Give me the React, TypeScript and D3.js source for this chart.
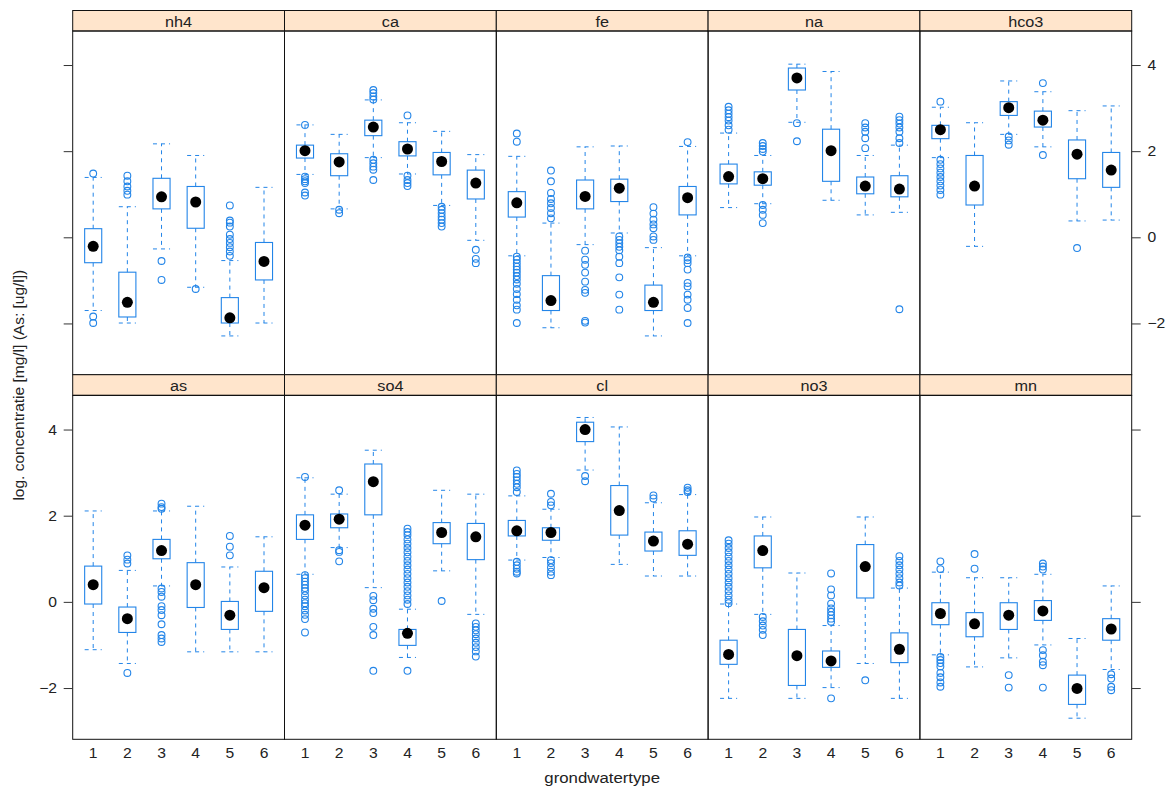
import React, { useEffect, useRef } from 'react';
import * as d3 from 'd3';

// grondwatertype 1..6
const groups = [1, 2, 3, 4, 5, 6];
const yTicks = [-2, 0, 2, 4];

// per group: [lower whisker, Q1, median, Q3, upper whisker]
const nh4Stats = [
  [-1.70, -0.59, -0.21, 0.20, 1.39],
  [-1.99, -1.85, -1.51, -0.81, 0.71],
  [-0.27, 0.66, 0.94, 1.37, 2.17],
  [-1.16, 0.21, 0.82, 1.18, 1.90],
  [-2.29, -1.99, -1.87, -1.40, -0.54],
  [-1.99, -0.99, -0.56, -0.12, 1.16],
];
const nh4Out = [
  [1.48, -1.84, -1.99],
  [1.43, 1.30, 1.18, 1.08, 0.99],
  [-0.55, -0.99],
  [-1.20],
  [0.74, 0.39, 0.34, 0.25, 0.06, -0.04, -0.13, -0.23, -0.33, -0.43],
  [],
];

const caStats = [
  [1.46, 1.84, 2.01, 2.14, 2.61],
  [0.66, 1.43, 1.75, 1.94, 2.39],
  [1.85, 2.36, 2.56, 2.72, 3.19],
  [1.47, 1.89, 2.05, 2.22, 2.66],
  [0.74, 1.45, 1.76, 1.97, 2.46],
  [-0.07, 0.89, 1.26, 1.56, 1.92],
];
const caOut = [
  [2.61, 1.41, 1.35, 1.30, 1.26, 1.04, 0.97],
  [0.64, 0.56],
  [3.42, 3.35, 3.27, 3.20, 1.80, 1.72, 1.64, 1.57, 1.33],
  [2.83, 1.43, 1.33, 1.26, 1.19],
  [0.71, 0.64, 0.56, 0.48, 0.41, 0.33, 0.25],
  [-0.29, -0.50, -0.60],
];

const feStats = [
  [-0.43, 0.47, 0.80, 1.06, 1.88],
  [-2.10, -1.70, -1.47, -0.89, 0.33],
  [-0.17, 0.66, 0.95, 1.33, 2.10],
  [0.10, 0.83, 1.14, 1.35, 2.12],
  [-2.29, -1.70, -1.51, -1.11, -0.24],
  [-0.43, 0.52, 0.92, 1.18, 2.11],
];
const feOut = [
  [2.41, 2.22, -0.45, -0.52, -0.60, -0.68, -0.75, -0.82, -0.90, -0.98, -1.08, -1.20, -1.32, -1.45, -1.58, -1.68, -1.99],
  [1.55, 1.30, 1.03, 0.89, 0.79, 0.68, 0.56, 0.44],
  [-0.31, -0.52, -0.64, -0.82, -1.03, -1.22, -1.29, -1.94, -1.98],
  [0.02, -0.06, -0.14, -0.22, -0.30, -0.45, -0.60, -0.93, -1.33, -1.68],
  [0.70, 0.55, 0.41, 0.30, 0.21, 0.02, -0.06],
  [2.21, -0.47, -0.53, -0.60, -0.75, -1.06, -1.14, -1.33, -1.45, -1.64, -1.99],
];

const naStats = [
  [0.69, 1.24, 1.41, 1.70, 2.42],
  [0.78, 1.21, 1.36, 1.52, 1.90],
  [2.67, 3.42, 3.70, 3.93, 4.02],
  [0.86, 1.30, 2.01, 2.51, 3.85],
  [0.52, 1.01, 1.19, 1.40, 1.90],
  [0.58, 0.94, 1.12, 1.43, 2.14],
];
const naOut = [
  [3.03, 2.95, 2.87, 2.79, 2.71, 2.60, 2.50],
  [2.19, 2.12, 2.05, 1.99, 0.75, 0.64, 0.52, 0.33],
  [2.65, 2.23],
  [],
  [2.65, 2.55, 2.45, 2.30, 2.07],
  [2.80, 2.72, 2.64, 2.55, 2.45, 2.30, 2.19, -1.67],
];

const hco3Stats = [
  [1.85, 2.29, 2.50, 2.60, 3.02],
  [-0.21, 0.75, 1.19, 1.90, 2.66],
  [2.39, 2.83, 3.01, 3.15, 3.63],
  [2.10, 2.56, 2.72, 2.93, 3.38],
  [0.38, 1.36, 1.93, 2.26, 2.94],
  [0.40, 1.16, 1.56, 1.97, 3.05],
];
const hco3Out = [
  [3.15, 1.80, 1.70, 1.60, 1.50, 1.40, 1.30, 1.20, 1.10, 0.99],
  [],
  [2.34, 2.25, 2.15],
  [3.58, 1.91],
  [-0.25],
  [],
];

const asStats = [
  [-1.11, -0.05, 0.40, 0.83, 2.11],
  [-1.43, -0.71, -0.39, -0.12, 0.73],
  [0.37, 1.00, 1.19, 1.45, 2.11],
  [-1.16, -0.13, 0.40, 0.91, 2.22],
  [-1.16, -0.64, -0.31, 0.01, 0.81],
  [-1.16, -0.22, 0.33, 0.71, 1.51],
];
const asOut = [
  [],
  [1.08, 0.98, 0.89, -1.65],
  [2.28, 2.20, 2.16, 0.31, 0.23, 0.12, -0.10, -0.19, -0.31, -0.52, -0.77, -0.85, -0.93],
  [],
  [1.53, 1.28, 1.08],
  [],
];

const so4Stats = [
  [0.64, 1.45, 1.78, 2.02, 2.88],
  [1.26, 1.72, 1.92, 2.04, 2.50],
  [0.33, 2.02, 2.79, 3.20, 3.52],
  [-1.29, -1.01, -0.73, -0.64, -0.17],
  [0.72, 1.35, 1.61, 1.84, 2.59],
  [-0.29, 0.98, 1.51, 1.82, 2.50],
];
const so4Out = [
  [2.90, 0.62, 0.55, 0.47, 0.40, 0.32, 0.25, 0.15, 0.05, -0.03, -0.10, -0.20, -0.30, -0.40, -0.71],
  [2.59, 1.20, 1.16, 0.94],
  [0.14, 0.04, -0.16, -0.26, -0.58, -0.77, -1.60],
  [1.70, 1.62, 1.55, 1.45, 1.35, 1.25, 1.15, 1.05, 0.95, 0.85, 0.75, 0.65, 0.55, 0.45, 0.35, 0.25, 0.15, 0.05, -0.05, -1.60],
  [0.02],
  [-0.50, -0.58, -0.66, -0.75, -0.85, -0.95, -1.05, -1.15, -1.27],
];

const clStats = [
  [0.97, 1.53, 1.65, 1.89, 2.46],
  [1.03, 1.43, 1.61, 1.72, 2.15],
  [3.06, 3.72, 4.00, 4.17, 4.28],
  [0.87, 1.55, 2.12, 2.70, 4.06],
  [0.60, 1.18, 1.41, 1.62, 2.30],
  [0.60, 1.08, 1.34, 1.65, 2.49],
];
const clOut = [
  [3.05, 2.97, 2.90, 2.82, 2.74, 2.66, 2.55, 0.93, 0.85, 0.77, 0.70, 0.66],
  [2.51, 2.32, 2.24, 0.97, 0.90, 0.80, 0.70, 0.62],
  [2.92, 2.80],
  [],
  [2.47, 2.40],
  [2.65, 2.59, 2.55],
];

const no3Stats = [
  [-2.24, -1.45, -1.22, -0.89, -0.05],
  [-0.29, 0.79, 1.19, 1.53, 1.97],
  [-2.24, -1.94, -1.25, -0.64, 0.67],
  [-1.99, -1.52, -1.37, -1.14, -0.55],
  [-1.43, 0.09, 0.82, 1.33, 1.97],
  [-2.24, -1.41, -1.10, -0.72, 0.32],
];
const no3Out = [
  [1.43, 1.35, 1.25, 1.15, 1.05, 0.95, 0.85, 0.75, 0.65, 0.55, 0.45, 0.35, 0.25, 0.15, 0.05, -0.03],
  [-0.35, -0.45, -0.55, -0.65, -0.77],
  [],
  [0.66, 0.29, 0.15, -0.04, -0.15, -0.23, -0.31, -0.39, -0.46, -2.24],
  [-1.82],
  [1.06, 0.95, 0.85, 0.75, 0.65, 0.55, 0.45, 0.38],
];

const mnStats = [
  [-1.23, -0.53, -0.27, -0.02, 0.69],
  [-1.51, -0.81, -0.51, -0.25, 0.56],
  [-1.30, -0.64, -0.31, -0.02, 0.56],
  [-1.00, -0.43, -0.21, 0.03, 0.64],
  [-2.70, -2.38, -2.01, -1.70, -0.85],
  [-1.57, -0.89, -0.63, -0.39, 0.37],
];
const mnOut = [
  [0.94, 0.76, -1.28, -1.35, -1.42, -1.50, -1.65, -1.75, -1.87, -1.97],
  [1.11, 0.77],
  [-1.70, -1.99],
  [0.89, 0.82, 0.75, -1.12, -1.24, -1.39, -1.47, -1.99],
  [],
  [-1.68, -1.78, -1.97, -2.05],
];

const topRow = [
  { name: 'nh4', stats: nh4Stats, out: nh4Out },
  { name: 'ca', stats: caStats, out: caOut },
  { name: 'fe', stats: feStats, out: feOut },
  { name: 'na', stats: naStats, out: naOut },
  { name: 'hco3', stats: hco3Stats, out: hco3Out },
];
const bottomRow = [
  { name: 'as', stats: asStats, out: asOut },
  { name: 'so4', stats: so4Stats, out: so4Out },
  { name: 'cl', stats: clStats, out: clOut },
  { name: 'no3', stats: no3Stats, out: no3Out },
  { name: 'mn', stats: mnStats, out: mnOut },
];

const App = () => {
  const svgRef = useRef(null);

  useEffect(() => {
    document.body.style.margin = '0';
    const width = 1175;
    const height = 789;
    const font = '"Liberation Sans", Arial, sans-serif';
    const blue = '#2385e8';
    const textColor = '#222';
    const stretch = 'scale(1.12,1)'; // reference text is a bit wide

    const svg = d3.select(svgRef.current);
    svg.selectAll('*').remove();
    svg.attr('width', width).attr('height', height).style('background', '#fff');

    // horizontal text helper
    const label = (parent, x, y, txt, size, anchor = 'middle') =>
      parent.append('text')
        .attr('transform', `translate(${x},${y}) ${stretch}`)
        .attr('text-anchor', anchor)
        .style('font-family', font).style('font-size', `${size}px`).style('fill', textColor)
        .text(txt);

    const left = 72.7;
    const right = 1131.7;
    const panelW = (right - left) / 5;
    const stripH = 20.5;
    const rows = [
      { panels: topRow, stripTop: 10.5, top: 31, bottom: 374.7, leftLabels: false },
      { panels: bottomRow, stripTop: 374.7, top: 395.5, bottom: 739.3, leftLabels: true },
    ];

    rows.forEach((row) => {
      const y = d3.scaleLinear().domain([-3.19, 4.79]).range([row.bottom, row.top]);

      row.panels.forEach((p, i) => {
        const x0 = left + i * panelW;
        const x = d3.scaleLinear().domain([0.4, 6.6]).range([x0, x0 + panelW]);
        const g = svg.append('g');
        const bw = x(1.25) - x(0.75);

        // strip
        g.append('rect')
          .attr('x', x0).attr('y', row.stripTop)
          .attr('width', panelW).attr('height', stripH)
          .attr('fill', '#ffe5cc').attr('stroke', '#111').attr('stroke-width', 1);
        label(g, x0 + panelW / 2, row.stripTop + 16, p.name, 14.5);

        // boxes
        p.stats.forEach((s, gi) => {
          const cx = x(groups[gi]);
          const [lo, q1, med, q3, hi] = s;

          // whiskers + caps (dashed)
          [[q3, hi], [q1, lo]].forEach(([a, b]) => {
            g.append('line')
              .attr('x1', cx).attr('x2', cx).attr('y1', y(a)).attr('y2', y(b))
              .attr('stroke', blue).attr('stroke-dasharray', '4,4');
            g.append('line')
              .attr('x1', cx - bw / 2).attr('x2', cx + bw / 2).attr('y1', y(b)).attr('y2', y(b))
              .attr('stroke', blue).attr('stroke-dasharray', '4,4');
          });

          g.append('rect')
            .attr('x', cx - bw / 2).attr('y', y(q3))
            .attr('width', bw).attr('height', y(q1) - y(q3))
            .attr('fill', 'none').attr('stroke', blue).attr('stroke-width', 1.1);

          g.selectAll(null)
            .data(p.out[gi])
            .enter()
            .append('circle')
            .attr('cx', cx).attr('cy', (d) => y(d)).attr('r', 3.4)
            .attr('fill', 'none').attr('stroke', blue).attr('stroke-width', 1.1);

          g.append('circle')
            .attr('cx', cx).attr('cy', y(med)).attr('r', 5.5)
            .attr('fill', '#000');
        });

        // panel frame
        g.append('rect')
          .attr('x', x0).attr('y', row.top)
          .attr('width', panelW).attr('height', row.bottom - row.top)
          .attr('fill', 'none').attr('stroke', '#111').attr('stroke-width', 1);

        // x labels on bottom row
        if (row.leftLabels) {
          groups.forEach((d) => label(g, x(d), row.bottom + 18.5, d, 14));
        }
      });

      // Y axes
      const axL = svg.append('g')
        .attr('transform', `translate(${left},0)`)
        .call(d3.axisLeft(y).tickValues(yTicks).tickSize(9).tickPadding(5));
      const axR = svg.append('g')
        .attr('transform', `translate(${right},0)`)
        .call(d3.axisRight(y).tickValues(yTicks).tickSize(9).tickPadding(5));
      [axL, axR].forEach((ax) => {
        ax.select('.domain').remove();
        ax.selectAll('line').attr('stroke', '#333');
        ax.selectAll('text')
          .attr('transform', stretch)
          .style('font-family', font).style('font-size', '14px').style('fill', textColor)
          .text((d) => (d < 0 ? `\u2212${Math.abs(d)}` : d));
      });
      if (row.leftLabels) axR.selectAll('text').remove();
      else axL.selectAll('text').remove();
    });

    // titles
    label(svg, (left + right) / 2, 783, 'grondwatertype', 15);

    svg.append('text')
      .attr('transform', `translate(24,${(31 + 739.3) / 2}) rotate(-90)`)
      .attr('text-anchor', 'middle')
      .style('font-family', font).style('font-size', '15.5px').style('fill', textColor)
      .text('log. concentratie [mg/l] (As: [ug/l])');
  }, []);

  return <svg ref={svgRef} />;
};

export default App;
